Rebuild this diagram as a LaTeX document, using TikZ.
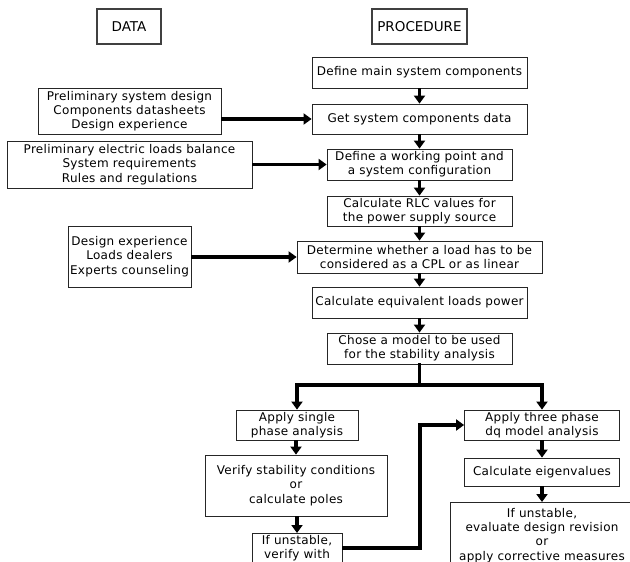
\documentclass[tikz,border=0pt]{standalone}
\usepackage{fontspec}
\setmainfont{DejaVu Sans}[LetterSpace=2.5]
\newfontfamily\headfont{DejaVu Sans}
\usetikzlibrary{arrows.meta}
\tikzset{
  box/.style={draw=black!85, line width=0.8pt, fill=white, align=center, inner sep=0pt,
    font=\fontsize{12}{14.2}\selectfont},
  head/.style={draw=black!75, line width=2.2pt, align=center,
    inner sep=0pt, font=\headfont\fontsize{13.5}{16}\selectfont},
  arr/.style={line width=3.6pt, -{Triangle[length=8pt,width=11pt]}},
  ln/.style={line width=3.6pt},
}
\begin{document}
\begin{tikzpicture}[x=1pt,y=-1pt]
\useasboundingbox (0,0) rectangle (630,562);
\clip (0,0) rectangle (630,562);
\fill[white] (0,0) rectangle (630,562);
% headers
\node[head, minimum width=64pt, minimum height=35pt] (hdata) at (129,26.5) {DATA};
\node[head, minimum width=95pt, minimum height=35pt] (hproc) at (419.5,26.5) {PROCEDURE};
% procedure column
\node[box, minimum width=215pt, minimum height=31pt] (b1) at (419.5,72.5) {Define main system components};
\node[box, minimum width=215pt, minimum height=30pt] (b2) at (419.5,119) {Get system components data};
\node[box, minimum width=185pt, minimum height=31pt] (b3) at (419.5,164.5) {Define a working point and\\a system configuration};
\node[box, minimum width=185pt, minimum height=30pt] (b4) at (419.5,211) {Calculate RLC values for\\the power supply source};
\node[box, minimum width=245pt, minimum height=32pt] (b5) at (419.5,257) {Determine whether a load has to be\\considered as a CPL or as linear};
\node[box, minimum width=215pt, minimum height=31pt] (b6) at (419.5,302.5) {Calculate equivalent loads power};
\node[box, minimum width=185pt, minimum height=31pt] (b7) at (419.5,348.5) {Chose a model to be used\\for the stability analysis};
% left branch
\node[box, minimum width=122pt, minimum height=30pt] (b8) at (297,425) {Apply single\\phase analysis};
\node[box, minimum width=182pt, minimum height=61pt] (b9) at (296,485.5) {Verify stability conditions\\or\\calculate poles};
\node[box, minimum width=90pt, minimum height=46pt, anchor=north] (b10) at (297,533) {If unstable,\\verify with\\\strut};
% right branch
\node[box, minimum width=155pt, minimum height=30pt] (b11) at (542,425) {Apply three phase\\dq model analysis};
\node[box, minimum width=155pt, minimum height=28pt] (b12) at (542,472) {Calculate eigenvalues};
\node[box, minimum width=184pt, minimum height=66pt, anchor=north] (b13) at (542,502) {If unstable,\\evaluate design revision\\or\\apply corrective measures};
% data column
\node[box, minimum width=183pt, minimum height=46pt] (d1) at (129.5,111) {Preliminary system design\\Components datasheets\\Design experience};
\node[box, minimum width=245pt, minimum height=47pt] (d2) at (129.5,164.5) {Preliminary electric loads balance\\System requirements\\Rules and regulations};
\node[box, minimum width=123pt, minimum height=61pt] (d3) at (129.5,256.5) {Design experience\\Loads dealers\\Experts counseling};
% vertical arrows
\foreach \a/\b in {b1/b2,b2/b3,b3/b4,b4/b5,b5/b6,b6/b7,b8/b9,b9/b10,b11/b12,b12/b13}
  \draw[arr] (\a.south -| \b.north) -- (\b.north);
% data arrows
\draw[arr] (d1.east |- b2.west) -- (b2.west);
\draw[arr] (d2.east |- b3.west) -- (b3.west);
\draw[arr] (d3.east |- b5.west) -- (b5.west);
% split
\coordinate (split) at (419.5,385);
\draw[ln, line cap=rect] (b7.south) -- (split);
\draw[arr, line join=miter] (split) -| (b8.north);
\draw[arr, line join=miter] (split) -| (b11.north);
% feedback
\coordinate (fb1) at (420,548);
\coordinate (fb2) at (420,425);
\draw[arr, line join=miter] (b10.east |- fb1) -- (fb1) -- (fb2) -- (b11.west);
\end{tikzpicture}
\end{document}
